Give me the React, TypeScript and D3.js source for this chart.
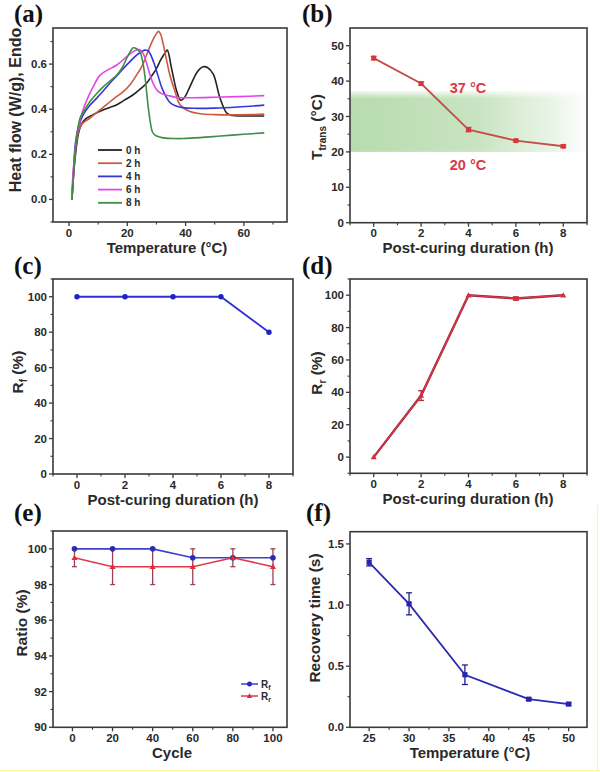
import React from 'react';
import * as d3 from 'd3';

const FONT = "'Liberation Sans', Arial, Helvetica, sans-serif";
const SERIF = "'Liberation Serif', 'Times New Roman', serif";
const INK = '#2a2a2a';

// ---------- (a) DSC curves ----------
const dscLabels = ['0 h', '2 h', '4 h', '6 h', '8 h'];
const dscColors = ['#222222', '#cc5a3c', '#3636d6', '#e246e6', '#3f8d48'];
const dsc0T = [1, 1.5, 2.4, 3.2, 4.3, 6, 8.3, 10, 11.8, 14, 16.4, 19, 22, 24.5, 26.6, 28.5, 30, 31.5, 32.9, 33.7, 35.2, 37, 38.3, 39.5, 41.5, 44, 46, 47.5, 49.5, 51.8, 54.1, 56, 60, 67];
const dsc0H = [0, 0.1, 0.22, 0.29, 0.335, 0.36, 0.376, 0.388, 0.398, 0.408, 0.42, 0.44, 0.464, 0.49, 0.515, 0.55, 0.58, 0.62, 0.648, 0.662, 0.58, 0.478, 0.44, 0.45, 0.5, 0.565, 0.588, 0.585, 0.555, 0.45, 0.383, 0.372, 0.37, 0.37];
const dsc2T = [1, 1.5, 2.3, 3.2, 4.5, 7.2, 10, 12.9, 15.5, 18.6, 21, 23.2, 25, 26.6, 28.5, 30, 30.7, 31.5, 32.4, 34.6, 36.4, 38.1, 41.5, 45, 50, 56, 62, 67];
const dsc2H = [0, 0.1, 0.23, 0.3, 0.335, 0.361, 0.39, 0.42, 0.448, 0.478, 0.51, 0.552, 0.59, 0.64, 0.7, 0.735, 0.745, 0.73, 0.684, 0.552, 0.478, 0.42, 0.39, 0.38, 0.376, 0.375, 0.376, 0.378];
const dsc4T = [1, 1.5, 2.2, 3, 4, 4.9, 7, 9.5, 12, 14, 16.4, 18.6, 21, 23.2, 24.8, 26, 27, 27.8, 29, 30.5, 32, 34.6, 36.5, 39, 43, 50, 58, 67];
const dsc4H = [0, 0.12, 0.25, 0.31, 0.35, 0.376, 0.415, 0.449, 0.485, 0.515, 0.548, 0.58, 0.612, 0.64, 0.655, 0.662, 0.66, 0.647, 0.61, 0.55, 0.49, 0.43, 0.415, 0.407, 0.404, 0.405, 0.41, 0.418];
const dsc6T = [0.9, 1.3, 2.1, 3.2, 4.9, 6.1, 8.3, 10.6, 13, 16.4, 19.8, 22, 23.5, 24.5, 25.5, 26.6, 27.8, 29, 30.5, 32, 34.6, 37, 42, 50, 58, 67];
const dsc6H = [0, 0.1, 0.22, 0.32, 0.4, 0.44, 0.5, 0.55, 0.572, 0.596, 0.633, 0.655, 0.664, 0.662, 0.645, 0.605, 0.552, 0.51, 0.48, 0.468, 0.459, 0.452, 0.451, 0.453, 0.456, 0.46];
const dsc8T = [1, 1.5, 2.3, 3.8, 5.5, 7.2, 9.5, 11.8, 14, 16.4, 18.3, 19.8, 21, 22, 23.2, 24.4, 25.3, 26.2, 27, 27.8, 28.6, 29.5, 31, 33, 36, 39.2, 45, 52, 60, 67];
const dsc8H = [0, 0.1, 0.24, 0.361, 0.4, 0.434, 0.47, 0.5, 0.525, 0.552, 0.585, 0.626, 0.655, 0.672, 0.668, 0.652, 0.61, 0.53, 0.43, 0.35, 0.3, 0.285, 0.277, 0.272, 0.27, 0.27, 0.274, 0.281, 0.289, 0.295];
const dscT = [dsc0T, dsc2T, dsc4T, dsc6T, dsc8T];
const dscH = [dsc0H, dsc2H, dsc4H, dsc6H, dsc8H];

// ---------- (b) transition temperature ----------
const curingHours = [0, 2, 4, 6, 8];
const tTrans = [46.5, 39.3, 26.3, 23.2, 21.6];
const tTransErr = [0.5, 0.5, 0.6, 0.4, 0.4];
const bandRange = [20, 37];

// ---------- (c) Rf ----------
const rfCuring = [100, 100, 100, 100, 80];

// ---------- (d) Rr ----------
const rrCuring = [0, 38, 100, 98, 100];
const rrCuringErr = [0, 3, 0, 1, 0];

// ---------- (e) cycles ----------
const cycles = [1, 20, 40, 60, 80, 100];
const rfCycle = [100, 100, 100, 99.5, 99.5, 99.5];
const rrCycle = [99.5, 99, 99, 99, 99.5, 99];
const rrCycleErr = [0.5, 1, 1, 1, 0.5, 1];

// ---------- (f) recovery time ----------
const recTemps = [25, 30, 37, 45, 50];
const recTime = [1.35, 1.01, 0.43, 0.23, 0.19];
const recErr = [0.03, 0.09, 0.08, 0.01, 0.01];

type Sc = d3.ScaleLinear<number, number>;

interface FrameProps {
  L: number; T: number; R: number; B: number;
  x: Sc; y: Sc;
  xTicks: number[]; xMinor: number[]; yTicks: number[]; yMinor: number[];
  xFmt: (v: number) => string; yFmt: (v: number) => string;
  xTitle: React.ReactNode; yTitle: React.ReactNode;
  yTitleX: number; yTitleY: number; xTitleX: number;
  yTitleSize?: number;
  label: string; labelX: number; labelY: number;
  children?: React.ReactNode;
}

function Frame(p: FrameProps) {
  const tickLab = 11.5;
  return (
    <g>
      {p.children}
      <rect x={p.L} y={p.T} width={p.R - p.L} height={p.B - p.T} fill="none" stroke="#3a3a3a" strokeWidth={1.6} />
      {p.xTicks.map((v) => (
        <g key={'xt' + v}>
          <line x1={p.x(v)} x2={p.x(v)} y1={p.B} y2={p.B + 4} stroke="#3a3a3a" strokeWidth={1.3} />
          <text x={p.x(v)} y={p.B + 14.5} textAnchor="middle" fontSize={tickLab} fontWeight="bold" fill={INK} fontFamily={FONT}>{p.xFmt(v)}</text>
        </g>
      ))}
      {p.xMinor.map((v) => (
        <line key={'xm' + v} x1={p.x(v)} x2={p.x(v)} y1={p.B} y2={p.B + 2.5} stroke="#3a3a3a" strokeWidth={1.1} />
      ))}
      {p.yTicks.map((v) => (
        <g key={'yt' + v}>
          <line x1={p.L - 4} x2={p.L} y1={p.y(v)} y2={p.y(v)} stroke="#3a3a3a" strokeWidth={1.3} />
          <text x={p.L - 6} y={p.y(v) + 4} textAnchor="end" fontSize={tickLab} fontWeight="bold" fill={INK} fontFamily={FONT}>{p.yFmt(v)}</text>
        </g>
      ))}
      {p.yMinor.map((v) => (
        <line key={'ym' + v} x1={p.L - 2.5} x2={p.L} y1={p.y(v)} y2={p.y(v)} stroke="#3a3a3a" strokeWidth={1.1} />
      ))}
      <text x={p.xTitleX} y={p.B + 30.5} textAnchor="middle" fontSize={15} fontWeight="bold" fill={INK} fontFamily={FONT}>{p.xTitle}</text>
      <text transform={`translate(${p.yTitleX},${p.yTitleY}) rotate(-90)`} textAnchor="middle" fontSize={p.yTitleSize || 15.5} fontWeight="bold" fill={INK} fontFamily={FONT}>{p.yTitle}</text>
      <text x={p.labelX} y={p.labelY} fontSize={25} fontWeight="bold" fill="#111" fontFamily={SERIF}>{p.label}</text>
    </g>
  );
}

function ErrBars({ xs, ys, es, x, y, color, cap = 3 }: { xs: number[]; ys: number[]; es: number[]; x: Sc; y: Sc; color: string; cap?: number }) {
  return (
    <g>
      {xs.map((xv, i) => es[i] > 0 ? (
        <g key={i} stroke={color} strokeWidth={1.3}>
          <line x1={x(xv)} x2={x(xv)} y1={y(ys[i] - es[i])} y2={y(ys[i] + es[i])} />
          <line x1={x(xv) - cap} x2={x(xv) + cap} y1={y(ys[i] - es[i])} y2={y(ys[i] - es[i])} />
          <line x1={x(xv) - cap} x2={x(xv) + cap} y1={y(ys[i] + es[i])} y2={y(ys[i] + es[i])} />
        </g>
      ) : null)}
    </g>
  );
}

const tri = (cx: number, cy: number, r: number) => `M${cx},${cy - r}L${cx + r},${cy + r * 0.75}L${cx - r},${cy + r * 0.75}Z`;

export default function App() {
  // (a)
  const aL = 53, aT = 28, aR = 287, aB = 222;
  const ax = d3.scaleLinear().domain([-5.5, 74.8]).range([aL, aR]);
  const ay = d3.scaleLinear().domain([-0.1, 0.76]).range([aB, aT]);
  const dscLine = d3.line<[number, number]>().x((d) => ax(d[0])).y((d) => ay(d[1])).curve(d3.curveCatmullRom.alpha(0.5));

  // (b)
  const bL = 350, bT = 28, bR = 587, bB = 222.7;
  const bx = d3.scaleLinear().domain([-1, 9]).range([bL, bR]);
  const by = d3.scaleLinear().domain([0, 55]).range([bB, bT]);
  const simple = (x: Sc, y: Sc) => d3.line<[number, number]>().x((d) => x(d[0])).y((d) => y(d[1]));

  // (c)
  const cL = 53, cT = 279, cR = 293, cB = 474;
  const cx = d3.scaleLinear().domain([-1, 9]).range([cL, cR]);
  const cy = d3.scaleLinear().domain([0, 110]).range([cB, cT]);

  // (d)
  const dL = 350, dT = 279, dR = 587, dB = 473.3;
  const dx = d3.scaleLinear().domain([-1, 9]).range([dL, dR]);
  const dy = d3.scaleLinear().domain([-10, 110]).range([dB, dT]);

  // (e)
  const eL = 53, eT = 531, eR = 287, eB = 727.3;
  const ex = d3.scaleLinear().domain([-9.7, 107]).range([eL, eR]);
  const ey = d3.scaleLinear().domain([90, 101]).range([eB, eT]);

  // (f)
  const fL = 350, fT = 531.7, fR = 587, fB = 727.3;
  const fx = d3.scaleLinear().domain([22.6, 52.3]).range([fL, fR]);
  const fy = d3.scaleLinear().domain([0, 1.6]).range([fB, fT]);

  const zip = (a: number[], b: number[]) => a.map((v, i) => [v, b[i]] as [number, number]);

  return (
    <svg width={600} height={772} style={{ position: 'absolute', left: 0, top: 0, background: '#fff' }} fontFamily={FONT}>
      <defs>
        <linearGradient id="band" x1="0" x2="1" y1="0" y2="0">
          <stop offset="0" stopColor="#8cc67e" stopOpacity={0.62} />
          <stop offset="0.55" stopColor="#92c985" stopOpacity={0.5} />
          <stop offset="0.85" stopColor="#a6d39a" stopOpacity={0.25} />
          <stop offset="1" stopColor="#b5dbaa" stopOpacity={0.02} />
        </linearGradient>
        <linearGradient id="bandTop" x1="0" x2="0" y1="0" y2="1">
          <stop offset="0" stopColor="#fff" stopOpacity={0.75} />
          <stop offset="1" stopColor="#fff" stopOpacity={0} />
        </linearGradient>
        <clipPath id="clipA"><rect x={aL} y={aT} width={aR - aL} height={aB - aT} /></clipPath>
      </defs>
      <rect x={0} y={0} width={600} height={772} fill="#fff" />

      {/* (a) */}
      <Frame L={aL} T={aT} R={aR} B={aB} x={ax} y={ay}
        xTicks={[0, 20, 40, 60]} xMinor={[10, 30, 50, 70]}
        yTicks={[0, 0.2, 0.4, 0.6]} yMinor={[-0.1, 0.1, 0.3, 0.5, 0.7]}
        xFmt={(v) => String(v)} yFmt={(v) => v.toFixed(1)}
        xTitle="Temperature (°C)" xTitleX={167}
        yTitle="Heat flow (W/g), Endo" yTitleX={21} yTitleY={110} yTitleSize={16}
        label="(a)" labelX={14} labelY={22}>
        <g clipPath="url(#clipA)">
          {dscT.map((ts, i) => (
            <path key={i} d={dscLine(zip(ts, dscH[i])) || ''} fill="none" stroke={dscColors[i]} strokeWidth={1.6} />
          ))}
        </g>
        {dscLabels.map((l, i) => (
          <g key={l}>
            <line x1={98} x2={122} y1={150 + i * 13.2} y2={150 + i * 13.2} stroke={dscColors[i]} strokeWidth={1.8} />
            <text x={126} y={150 + i * 13.2 + 3.5} fontSize={10} fontWeight="bold" fill={INK}>{l}</text>
          </g>
        ))}
      </Frame>

      {/* (b) */}
      <Frame L={bL} T={bT} R={bR} B={bB} x={bx} y={by}
        xTicks={[0, 2, 4, 6, 8]} xMinor={[-1, 1, 3, 5, 7, 9]}
        yTicks={[0, 10, 20, 30, 40, 50]} yMinor={[5, 15, 25, 35, 45]}
        xFmt={(v) => String(v)} yFmt={(v) => String(v)}
        xTitle="Post-curing duration (h)" xTitleX={468}
        yTitle={<><tspan>T</tspan><tspan fontSize={10} dy={4}>trans</tspan><tspan dy={-4}> (°C)</tspan></>}
        yTitleX={322} yTitleY={127}
        label="(b)" labelX={302} labelY={22}>
        <rect x={bL} y={by(bandRange[1])} width={bR - bL} height={by(bandRange[0]) - by(bandRange[1])} fill="url(#band)" />
        <rect x={bL} y={by(bandRange[1])} width={bR - bL} height={7} fill="url(#bandTop)" />
        <path d={simple(bx, by)(zip(curingHours, tTrans)) || ''} fill="none" stroke="#c0504a" strokeWidth={1.8} />
        <ErrBars xs={curingHours} ys={tTrans} es={tTransErr} x={bx} y={by} color="#c44" cap={3} />
        {curingHours.map((h, i) => (
          <circle key={h} cx={bx(h)} cy={by(tTrans[i])} r={2.6} fill="#d8363a" />
        ))}
        <text x={468} y={92.5} textAnchor="middle" fontSize={14.5} fontWeight="bold" fill="#d83a44">37 °C</text>
        <text x={468} y={170} textAnchor="middle" fontSize={14.5} fontWeight="bold" fill="#d83a44">20 °C</text>
      </Frame>

      {/* (c) */}
      <Frame L={cL} T={cT} R={cR} B={cB} x={cx} y={cy}
        xTicks={[0, 2, 4, 6, 8]} xMinor={[-1, 1, 3, 5, 7, 9]}
        yTicks={[0, 20, 40, 60, 80, 100]} yMinor={[10, 30, 50, 70, 90, 110]}
        xFmt={(v) => String(v)} yFmt={(v) => String(v)}
        xTitle="Post-curing duration (h)" xTitleX={173}
        yTitle={<><tspan>R</tspan><tspan fontSize={10} dy={4}>f</tspan><tspan dy={-4}> (%)</tspan></>}
        yTitleX={23} yTitleY={372}
        label="(c)" labelX={14} labelY={274}>
        <path d={simple(cx, cy)(zip(curingHours, rfCuring)) || ''} fill="none" stroke="#3030d8" strokeWidth={1.8} />
        {curingHours.map((h, i) => (
          <circle key={h} cx={cx(h)} cy={cy(rfCuring[i])} r={2.7} fill="#2020c8" />
        ))}
      </Frame>

      {/* (d) */}
      <Frame L={dL} T={dT} R={dR} B={dB} x={dx} y={dy}
        xTicks={[0, 2, 4, 6, 8]} xMinor={[-1, 1, 3, 5, 7, 9]}
        yTicks={[0, 20, 40, 60, 80, 100]} yMinor={[-10, 10, 30, 50, 70, 90, 110]}
        xFmt={(v) => String(v)} yFmt={(v) => String(v)}
        xTitle="Post-curing duration (h)" xTitleX={468}
        yTitle={<><tspan>R</tspan><tspan fontSize={10} dy={4}>r</tspan><tspan dy={-4}> (%)</tspan></>}
        yTitleX={322} yTitleY={373}
        label="(d)" labelX={302} labelY={274}>
        <path d={simple(dx, dy)(zip(curingHours, rrCuring)) || ''} fill="none" stroke="#8a2a35" strokeWidth={2.4} />
        <path d={simple(dx, dy)(zip(curingHours, rrCuring)) || ''} fill="none" stroke="#e8324a" strokeWidth={1.2} />
        <ErrBars xs={curingHours} ys={rrCuring} es={rrCuringErr} x={dx} y={dy} color="#b03040" cap={3} />
        {curingHours.map((h, i) => (
          <path key={h} d={tri(dx(h), dy(rrCuring[i]), 3)} fill="#e02a3c" />
        ))}
      </Frame>

      {/* (e) */}
      <Frame L={eL} T={eT} R={eR} B={eB} x={ex} y={ey}
        xTicks={[0, 20, 40, 60, 80, 100]} xMinor={[10, 30, 50, 70, 90]}
        yTicks={[90, 92, 94, 96, 98, 100]} yMinor={[91, 93, 95, 97, 99, 101]}
        xFmt={(v) => String(v)} yFmt={(v) => String(v)}
        xTitle="Cycle" xTitleX={172}
        yTitle="Ratio (%)" yTitleX={27} yTitleY={623}
        label="(e)" labelX={14} labelY={521}>
        <ErrBars xs={cycles} ys={rrCycle} es={rrCycleErr} x={ex} y={ey} color="#9a4050" cap={2.5} />
        <path d={simple(ex, ey)(zip(cycles, rfCycle)) || ''} fill="none" stroke="#4040c8" strokeWidth={1.6} />
        <path d={simple(ex, ey)(zip(cycles, rrCycle)) || ''} fill="none" stroke="#e03848" strokeWidth={1.6} />
        {cycles.map((c, i) => (
          <circle key={'f' + c} cx={ex(c)} cy={ey(rfCycle[i])} r={2.8} fill="#2a2ab8" />
        ))}
        {cycles.map((c, i) => (
          <path key={'r' + c} d={tri(ex(c), ey(rrCycle[i]), 3)} fill="#e02a3c" />
        ))}
        <line x1={241} x2={258} y1={684} y2={684} stroke="#4040c8" strokeWidth={1.5} />
        <circle cx={249.5} cy={684} r={2.5} fill="#2a2ab8" />
        <text x={261} y={687.5} fontSize={10} fontWeight="bold" fill={INK}>R<tspan fontSize={7} dy={2}>f</tspan></text>
        <line x1={241} x2={258} y1={696} y2={696} stroke="#e03848" strokeWidth={1.5} />
        <path d={tri(249.5, 696, 2.7)} fill="#e02a3c" />
        <text x={261} y={699.5} fontSize={10} fontWeight="bold" fill={INK}>R<tspan fontSize={7} dy={2}>r</tspan></text>
      </Frame>

      {/* (f) */}
      <Frame L={fL} T={fT} R={fR} B={fB} x={fx} y={fy}
        xTicks={[25, 30, 35, 40, 45, 50]} xMinor={[27.5, 32.5, 37.5, 42.5, 47.5]}
        yTicks={[0, 0.5, 1.0, 1.5]} yMinor={[0.25, 0.75, 1.25]}
        xFmt={(v) => String(v)} yFmt={(v) => v.toFixed(1)}
        xTitle="Temperature (°C)" xTitleX={470}
        yTitle="Recovery time (s)" yTitleX={320} yTitleY={618}
        label="(f)" labelX={306} labelY={521}>
        <path d={simple(fx, fy)(zip(recTemps, recTime)) || ''} fill="none" stroke="#2c2cb0" strokeWidth={1.8} />
        <ErrBars xs={recTemps} ys={recTime} es={recErr} x={fx} y={fy} color="#20208a" cap={3} />
        {recTemps.map((t, i) => (
          <rect key={t} x={fx(t) - 2.6} y={fy(recTime[i]) - 2.6} width={5.2} height={5.2} fill="#2424b0" />
        ))}
      </Frame>

      <line x1={0} x2={600} y1={770.5} y2={770.5} stroke="#faf3a0" strokeWidth={1.2} />
      <line x1={597.5} x2={597.5} y1={505} y2={771} stroke="#faf3a0" strokeWidth={1.2} />
    </svg>
  );
}
